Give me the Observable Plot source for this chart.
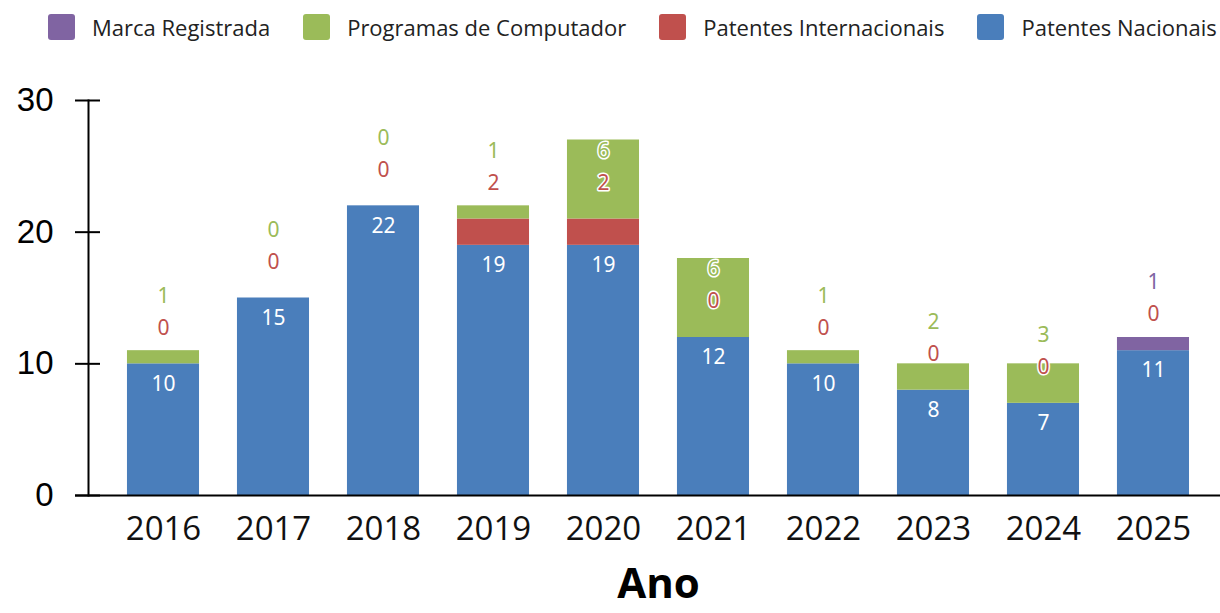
<!DOCTYPE html>
<html><head><meta charset="utf-8">
<script src="https://cdn.jsdelivr.net/npm/d3@7"></script>
<script src="https://cdn.jsdelivr.net/npm/@observablehq/plot@0.6"></script>
<style>
body{margin:0;background:#fff;}
#legend{width:1220px;height:60px;box-sizing:border-box;padding-left:48px;padding-top:14px;display:flex;flex-wrap:nowrap;align-items:flex-start;font-family:"Open Sans",sans-serif;font-size:22px;color:#222;white-space:nowrap;overflow:visible;}
.item{display:flex;align-items:center;margin-right:33px;height:26px;flex-shrink:0;white-space:nowrap;}
.sw{width:27px;height:26px;border-radius:3px;margin-right:17px;flex-shrink:0;}
</style></head><body>
<div id="legend"></div><div id="chart"></div>
<script>
const years = ["2016","2017","2018","2019","2020","2021","2022","2023","2024","2025"];
const nacionais = [10,15,22,19,19,12,10,8,7,11];
const internacionais = [0,0,0,2,2,0,0,0,0,0];
const programas = [1,0,0,1,6,6,1,2,3,0];
const marca = [0,0,0,0,0,0,0,0,0,1];
const seriesNames = ["Patentes Nacionais","Patentes Internacionais","Programas de Computador","Marca Registrada"];
const seriesColors = ["#4a7ebb","#c0504d","#9bbb59","#8064a2"];
const legendOrder = ["Marca Registrada","Programas de Computador","Patentes Internacionais","Patentes Nacionais"];
const yTicks = [0,10,20,30];
const xTitle = "Ano";

const seriesValues = [nacionais, internacionais, programas, marca];
const rows = [];
seriesNames.forEach((s, si) => years.forEach((y, i) => rows.push({year: y, series: s, value: seriesValues[si][i]})));

const info = years.map((y, i) => ({
  year: y,
  nac: nacionais[i],
  base: nacionais[i] + internacionais[i],
  intl: internacionais[i],
  topVal: marca[i] > 0 ? marca[i] : programas[i],
  topColor: marca[i] > 0 ? seriesColors[3] : seriesColors[2]
}));

// legend
const leg = document.getElementById("legend");
legendOrder.forEach(s => {
  const it = document.createElement("div"); it.className = "item";
  const sw = document.createElement("div"); sw.className = "sw";
  sw.style.background = seriesColors[seriesNames.indexOf(s)];
  const tx = document.createElement("span"); tx.textContent = s;
  it.appendChild(sw); it.appendChild(tx); leg.appendChild(it);
});

const W = 1220, H = 553, ML = 88, MR = 0;
const labelFont = "Noto Sans";
const chart = Plot.plot({
  width: W, height: H,
  marginLeft: ML, marginRight: MR, marginTop: 40, marginBottom: 118,
  style: {background: "white", fontFamily: "Open Sans"},
  x: {domain: years, paddingInner: 0.345, paddingOuter: 0.318, align: 0.557, round: false, label: null},
  y: {domain: [0, 30], label: null},
  color: {domain: seriesNames, range: seriesColors},
  marks: [
    Plot.barY(rows, {x: "year", y: "value", fill: "series", order: seriesNames}),
    Plot.frame({anchor: "left", stroke: "#000", strokeWidth: 2, strokeOpacity: 1}),
    Plot.ruleY([0], {stroke: "#000", strokeWidth: 2, insetLeft: -13}),
    Plot.ruleY(yTicks, {stroke: "#000", strokeWidth: 2, insetLeft: -13, insetRight: W - ML - MR - 12}),
    Plot.axisY({ticks: yTicks, tickSize: 0, tickPadding: 35, fontSize: 33, fontFamily: "Liberation Sans", fill: "#000", label: null}),
    Plot.axisX({tickSize: 0, tickPadding: 21, fontSize: 33, fontFamily: "Open Sans", fill: "#111", label: null}),
    Plot.text(info, {x: "year", y: "nac", text: d => String(d.nac), dy: 20, fill: "white", fontSize: 21, fontFamily: labelFont}),
    Plot.text(info, {x: "year", y: "base", text: d => String(d.intl), dy: -36, fill: seriesColors[1], stroke: "white", strokeWidth: 3, fontSize: 21, fontFamily: labelFont}),
    Plot.text(info, {x: "year", y: "base", text: d => String(d.topVal), dy: -68, fill: d => d.topColor, stroke: "white", strokeWidth: 3, fontSize: 21, fontFamily: labelFont}),
    Plot.text([xTitle], {frameAnchor: "bottom", dx: 4, dy: 102, text: d => d, fontSize: 42, fontWeight: "bold", fontFamily: "Open Sans", fill: "#000"})
  ]
});
document.getElementById("chart").appendChild(chart);
</script>
</body></html>
